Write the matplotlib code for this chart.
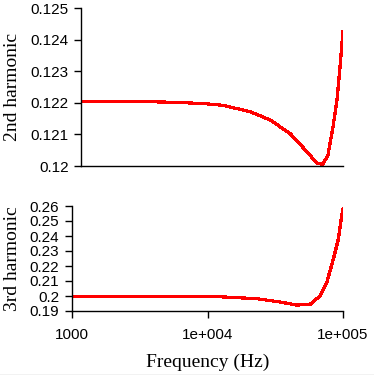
import numpy as np
import matplotlib
matplotlib.use("Agg")
import matplotlib.pyplot as plt
from matplotlib.lines import Line2D

# 2nd harmonic vs frequency
freq2 = [1000, 3000, 5700, 9000, 12100, 19500, 27700, 39400, 53100, 63400,
         70400, 76800, 83900, 90000, 94900, 98800, 100000]
h2 = [0.12204, 0.12204, 0.12201, 0.12197, 0.12192, 0.12172, 0.12146, 0.12103,
      0.12045, 0.12008, 0.12006, 0.12035, 0.12124, 0.12209, 0.12314, 0.12400,
      0.12425]

# 3rd harmonic vs frequency
freq3 = [1000, 5000, 12400, 23100, 34300, 45500, 57100, 67600, 75800, 84800,
         92300, 98800, 100000]
h3 = [0.1998, 0.1998, 0.1995, 0.1982, 0.1960, 0.1940, 0.1944, 0.2000, 0.2089,
      0.2244, 0.2378, 0.2560, 0.2580]

ticks2 = [0.12, 0.121, 0.122, 0.123, 0.124, 0.125]
ticklabels2 = ["0.12", "0.121", "0.122", "0.123", "0.124", "0.125"]
ticks3 = [0.19, 0.20, 0.21, 0.22, 0.23, 0.24, 0.25, 0.26]
ticklabels3 = ["0.19", "0.2", "0.21", "0.22", "0.23", "0.24", "0.25", "0.26"]
xticks = [1000, 10000, 100000]
xticklabels = ["1000", "1e+004", "1e+005"]

W, H = 374, 375
fig = plt.figure(figsize=(W / 100, H / 100), dpi=100)

tick_font = {"family": "Liberation Sans", "size": 11}
label_font = {"family": "Liberation Serif", "size": 14}


def style(ax):
    for s in ["top", "right"]:
        ax.spines[s].set_visible(False)
    for s in ["left", "bottom"]:
        ax.spines[s].set_linewidth(1.0)
        ax.spines[s].set_color("black")
    ax.tick_params(axis="both", direction="out", length=5, width=1,
                   pad=4, colors="black")
    ax.minorticks_off()


ax1 = fig.add_axes([81 / W, 1 - 166 / H, 262 / W, 158 / H])
ax1.plot(freq2, h2, color="#ff0000", lw=1.6, antialiased=False)
ax1.set_xscale("log")
ax1.set_xlim(1000, 100000)
ax1.set_ylim(0.12, 0.125)
ax1.set_yticks(ticks2)
ax1.set_yticklabels(ticklabels2, fontdict=tick_font)
style(ax1)
ax1.set_xticks([])
ax1.tick_params(axis="x", which="both", length=0)
ax1.set_ylabel("2nd harmonic", fontdict=label_font)
ax1.yaxis.set_label_coords((21 - 81) / 262, 0.5)

ax2 = fig.add_axes([72 / W, 1 - 311 / H, 271 / W, 105 / H])
ax2.plot(freq3, h3, color="#ff0000", lw=1.6, antialiased=False)
ax2.set_xscale("log")
ax2.set_xlim(1000, 100000)
ax2.set_ylim(0.19, 0.26)
ax2.set_yticks(ticks3)
ax2.set_yticklabels(ticklabels3, fontdict=tick_font)
ax2.set_xticks(xticks)
ax2.set_xticklabels(xticklabels, fontdict=tick_font)
style(ax2)
ax2.tick_params(axis="x", pad=7)
ax2.set_ylabel("3rd harmonic", fontdict=label_font)
ax2.yaxis.set_label_coords((21 - 72) / 271, 0.5)
ax2.set_xlabel("Frequency (Hz)", fontdict=label_font, labelpad=9)

fig.add_artist(Line2D([0, 1], [0.5 / H, 0.5 / H], color="#c0c0c0", lw=1))

fig.savefig("out.png", dpi=100)
